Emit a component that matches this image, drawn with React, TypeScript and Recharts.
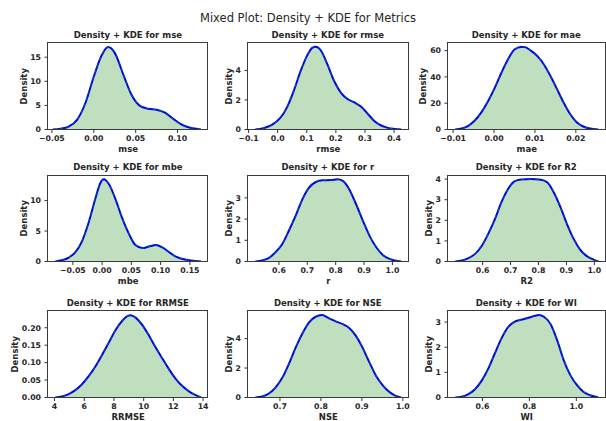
import React from "react";
import { ComposedChart, Area, Line, XAxis, YAxis, ReferenceLine } from "recharts";

// ---------- data ----------
const mseX = [-0.049, -0.04, -0.03, -0.02, -0.01, 0.0, 0.01, 0.017, 0.025, 0.035, 0.045, 0.055, 0.065, 0.075, 0.085, 0.095, 0.105, 0.115, 0.128];
const mseDensity = [0, 0.15, 0.6, 2.0, 5.5, 11, 15.6, 17.1, 15.9, 11.5, 7.2, 4.9, 4.3, 4.1, 3.5, 2.2, 1.0, 0.35, 0.02];

const rmseX = [-0.077, -0.049, -0.02, 0.009, 0.032, 0.055, 0.079, 0.102, 0.119, 0.131, 0.148, 0.171, 0.194, 0.217, 0.24, 0.264, 0.287, 0.31, 0.333, 0.356, 0.379, 0.402, 0.425];
const rmseDensity = [0, 0.09, 0.31, 0.78, 1.5, 2.6, 3.96, 5.03, 5.52, 5.59, 5.36, 4.4, 3.28, 2.5, 2.06, 1.83, 1.54, 1.05, 0.56, 0.27, 0.11, 0.04, 0];

const maeX = [-0.0095, -0.0079, -0.0063, -0.0047, -0.0031, -0.0014, 0.0002, 0.0018, 0.0034, 0.005, 0.0066, 0.0074, 0.009, 0.0106, 0.0122, 0.0138, 0.0154, 0.017, 0.0186, 0.0202, 0.0218, 0.0235, 0.0255];
const maeDensity = [0, 0.75, 2.8, 6.8, 13, 21.9, 31.9, 43.2, 53.3, 60.8, 62.8, 62.8, 60, 55.8, 49.5, 40.7, 30.7, 20.6, 11.8, 5.5, 2.3, 0.75, 0];

const mbeX = [-0.08, -0.069, -0.057, -0.046, -0.034, -0.023, -0.011, -0.003, 0.003, 0.011, 0.023, 0.034, 0.046, 0.057, 0.069, 0.08, 0.092, 0.103, 0.115, 0.126, 0.138, 0.152, 0.169];
const mbeDensity = [0, 0.2, 0.65, 1.5, 3.4, 6.4, 10.5, 12.9, 13.5, 12.8, 10.2, 7.2, 4.5, 2.7, 2.2, 2.45, 2.7, 2.3, 1.5, 0.8, 0.4, 0.15, 0];

const rX = [0.517, 0.541, 0.565, 0.588, 0.612, 0.635, 0.659, 0.683, 0.706, 0.73, 0.754, 0.783, 0.807, 0.825, 0.848, 0.872, 0.896, 0.919, 0.943, 0.966, 0.99, 1.031];
const rDensity = [0, 0.05, 0.17, 0.44, 0.83, 1.45, 2.16, 2.94, 3.48, 3.75, 3.83, 3.84, 3.875, 3.8, 3.4, 2.7, 1.92, 1.22, 0.67, 0.31, 0.12, 0];

const r2X = [0.502, 0.526, 0.549, 0.573, 0.596, 0.62, 0.644, 0.667, 0.691, 0.714, 0.738, 0.773, 0.808, 0.832, 0.855, 0.879, 0.902, 0.926, 0.949, 0.973, 0.996, 1.014];
const r2Density = [0, 0.05, 0.16, 0.37, 0.74, 1.34, 2.06, 2.87, 3.52, 3.89, 3.98, 4.0, 3.97, 3.84, 3.35, 2.63, 1.82, 1.1, 0.58, 0.26, 0.1, 0];

const rrmseX = [4.05, 4.5, 4.95, 5.4, 5.85, 6.3, 6.75, 7.2, 7.66, 8.1, 8.56, 8.9, 9.12, 9.46, 9.9, 10.36, 10.8, 11.27, 11.72, 12.17, 12.62, 13.07, 13.5, 13.86];
const rrmseDensity = [0, 0.003, 0.0095, 0.021, 0.038, 0.061, 0.089, 0.122, 0.158, 0.193, 0.22, 0.233, 0.236, 0.229, 0.208, 0.177, 0.144, 0.111, 0.08, 0.053, 0.032, 0.017, 0.0066, 0];

const nseX = [0.64, 0.657, 0.673, 0.689, 0.706, 0.722, 0.738, 0.755, 0.771, 0.787, 0.803, 0.819, 0.836, 0.852, 0.869, 0.885, 0.901, 0.918, 0.934, 0.951, 0.967, 0.979, 0.996];
const nseDensity = [0, 0.07, 0.27, 0.67, 1.35, 2.29, 3.37, 4.36, 5.1, 5.48, 5.6, 5.39, 5.17, 4.99, 4.72, 4.2, 3.42, 2.4, 1.5, 0.83, 0.38, 0.16, 0];

const wiX = [0.484, 0.512, 0.54, 0.568, 0.596, 0.624, 0.652, 0.68, 0.708, 0.736, 0.764, 0.792, 0.82, 0.841, 0.862, 0.89, 0.919, 0.947, 0.975, 1.003, 1.031, 1.059, 1.094];
const wiDensity = [0, 0.03, 0.13, 0.33, 0.66, 1.14, 1.74, 2.33, 2.79, 3.01, 3.09, 3.16, 3.24, 3.28, 3.21, 2.92, 2.26, 1.47, 0.88, 0.49, 0.22, 0.09, 0];

// tick values and labels
const mseXTicks = [-0.05, 0, 0.05, 0.1];
const mseXLabels = ["\u22120.05", "0.00", "0.05", "0.10"];
const mseYTicks = [0, 5, 10, 15];
const rmseXTicks = [-0.1, 0, 0.1, 0.2, 0.3, 0.4];
const rmseXLabels = ["\u22120.1", "0.0", "0.1", "0.2", "0.3", "0.4"];
const rmseYTicks = [0, 2, 4];
const maeXTicks = [-0.01, 0, 0.01, 0.02];
const maeXLabels = ["\u22120.01", "0.00", "0.01", "0.02"];
const maeYTicks = [0, 20, 40, 60];
const mbeXTicks = [-0.05, 0, 0.05, 0.1, 0.15];
const mbeXLabels = ["\u22120.05", "0.00", "0.05", "0.10", "0.15"];
const mbeYTicks = [0, 5, 10];
const rXTicks = [0.6, 0.7, 0.8, 0.9, 1.0];
const rXLabels = ["0.6", "0.7", "0.8", "0.9", "1.0"];
const rYTicks = [0, 1, 2, 3];
const r2XTicks = [0.6, 0.7, 0.8, 0.9, 1.0];
const r2XLabels = ["0.6", "0.7", "0.8", "0.9", "1.0"];
const r2YTicks = [0, 1, 2, 3, 4];
const rrmseXTicks = [4, 6, 8, 10, 12, 14];
const rrmseXLabels = ["4", "6", "8", "10", "12", "14"];
const rrmseYTicks = [0, 0.05, 0.1, 0.15, 0.2];
const rrmseYLabels = ["0.00", "0.05", "0.10", "0.15", "0.20"];
const nseXTicks = [0.7, 0.8, 0.9, 1.0];
const nseXLabels = ["0.7", "0.8", "0.9", "1.0"];
const nseYTicks = [0, 2, 4];
const wiXTicks = [0.6, 0.8, 1.0];
const wiXLabels = ["0.6", "0.8", "1.0"];
const wiYTicks = [0, 1, 2, 3];

const metricNames = ["mse", "rmse", "mae", "mbe", "r", "R2", "RRMSE", "NSE", "WI"];

// ---------- layout ----------
const COL_LEFT = [47.7, 247.5, 447.5];
const COL_WIDTH = [160.3, 160.6, 157.5];
const ROW_TOP = [42.7, 175, 310.7];
const BOX_H = 86.5;

const TEXT = "#262626";
const FONT = "'DejaVu Sans', sans-serif";

const toRows = (xs: number[], ds: number[]) => xs.map((x, i) => ({ x, d: ds[i] }));
const fmt = (ticks: number[], labels?: string[]) => (v: number) => {
  if (!labels) return String(v);
  const i = ticks.findIndex((t) => Math.abs(t - v) < 1e-9);
  return i >= 0 ? labels[i] : String(v);
};

type PanelCfg = {
  name: string;
  xs: number[];
  ds: number[];
  xDomain: [number, number];
  yMax: number;
  xTicks: number[];
  xLabels: string[];
  yTicks: number[];
  yLabels?: string[];
  yLabelOff: number;
};

const panels: PanelCfg[] = [
  { name: metricNames[0], xs: mseX, ds: mseDensity, xDomain: [-0.0547, 0.1367], yMax: 17.95, xTicks: mseXTicks, xLabels: mseXLabels, yTicks: mseYTicks, yLabelOff: 24.4 },
  { name: metricNames[1], xs: rmseX, ds: rmseDensity, xDomain: [-0.102, 0.45], yMax: 5.85, xTicks: rmseXTicks, xLabels: rmseXLabels, yTicks: rmseYTicks, yLabelOff: 19.4 },
  { name: metricNames[2], xs: maeX, ds: maeDensity, xDomain: [-0.01125, 0.02725], yMax: 65.8, xTicks: maeXTicks, xLabels: maeXLabels, yTicks: maeYTicks, yLabelOff: 25 },
  { name: metricNames[3], xs: mbeX, ds: mbeDensity, xDomain: [-0.0925, 0.1815], yMax: 14.2, xTicks: mbeXTicks, xLabels: mbeXLabels, yTicks: mbeYTicks, yLabelOff: 24.4 },
  { name: metricNames[4], xs: rX, ds: rDensity, xDomain: [0.491, 1.057], yMax: 4.08, xTicks: rXTicks, xLabels: rXLabels, yTicks: rYTicks, yLabelOff: 19.4 },
  { name: metricNames[5], xs: r2X, ds: r2Density, xDomain: [0.476, 1.04], yMax: 4.2, xTicks: r2XTicks, xLabels: r2XLabels, yTicks: r2YTicks, yLabelOff: 19.4 },
  { name: metricNames[6], xs: rrmseX, ds: rrmseDensity, xDomain: [3.56, 14.35], yMax: 0.248, xTicks: rrmseXTicks, xLabels: rrmseXLabels, yTicks: rrmseYTicks, yLabels: rrmseYLabels, yLabelOff: 32.5 },
  { name: metricNames[7], xs: nseX, ds: nseDensity, xDomain: [0.622, 1.014], yMax: 5.87, xTicks: nseXTicks, xLabels: nseXLabels, yTicks: nseYTicks, yLabelOff: 19.4 },
  { name: metricNames[8], xs: wiX, ds: wiDensity, xDomain: [0.453, 1.1245], yMax: 3.44, xTicks: wiXTicks, xLabels: wiXLabels, yTicks: wiYTicks, yLabelOff: 19.4 },
];

const ML = 50;
const MT = 5;
const MB = 32;
const MR = 4;

const tickStyle = { fontFamily: FONT, fontWeight: 700, fontSize: 7.8, fill: TEXT };

function Panel({ cfg, left, top, width }: { cfg: PanelCfg; left: number; top: number; width: number }) {
  const data = toRows(cfg.xs, cfg.ds);
  const W = width + ML + MR;
  const H = BOX_H + MT + MB;
  const first = cfg.xs[0];
  const last = cfg.xs[cfg.xs.length - 1];
  return (
    <>
      <div style={{ position: "absolute", left: left - ML, top: top - MT, width: W, height: H }}>
        <ComposedChart width={W} height={H} data={data} margin={{ top: MT, right: MR, left: 0, bottom: 0 }}>
          <XAxis
            type="number"
            dataKey="x"
            domain={cfg.xDomain}
            allowDataOverflow
            ticks={cfg.xTicks}
            interval={0}
            tickFormatter={fmt(cfg.xTicks, cfg.xLabels)}
            height={MB}
            tickSize={3.5}
            tickMargin={2.5}
            axisLine={false}
            tickLine={{ stroke: "#333", strokeWidth: 1 }}
            tick={tickStyle}
            label={{
              content: () => (
                <text x={ML + width / 2} y={MT + BOX_H + 19.5} textAnchor="middle" dominantBaseline="central"
                  style={{ fontFamily: FONT, fontWeight: 700, fontSize: 8.5, fill: TEXT }}>
                  {cfg.name}
                </text>
              ),
            }}
          />
          <YAxis
            type="number"
            domain={[0, cfg.yMax]}
            allowDataOverflow
            ticks={cfg.yTicks}
            interval={0}
            tickFormatter={fmt(cfg.yTicks, cfg.yLabels)}
            width={ML}
            tickSize={3.5}
            tickMargin={3.5}
            axisLine={false}
            tickLine={{ stroke: "#333", strokeWidth: 1 }}
            tick={tickStyle}
            label={{
              content: () => {
                const cx = ML - cfg.yLabelOff;
                const cy = MT + BOX_H / 2;
                return (
                  <text x={cx} y={cy} transform={`rotate(-90, ${cx}, ${cy})`} textAnchor="middle" dominantBaseline="central"
                    style={{ fontFamily: FONT, fontWeight: 700, fontSize: 8.5, fill: TEXT }}>
                    Density
                  </text>
                );
              },
            }}
          />
          <Area dataKey="d" type="monotone" fill="#008000" fillOpacity={0.25} stroke="none" isAnimationActive={false} />
          <ReferenceLine segment={[{ x: first, y: 0 }, { x: last, y: 0 }]} stroke="#2e7d2e" strokeWidth={1.2} ifOverflow="visible" />
          <Line dataKey="d" type="monotone" stroke="#0000ff" strokeWidth={2} dot={false} isAnimationActive={false} />
          <Line dataKey="d" type="monotone" stroke="#008000" strokeWidth={0.9} strokeDasharray="3 4" dot={false} isAnimationActive={false} />
        </ComposedChart>
      </div>
      <div style={{ position: "absolute", left: left - 0.5, top: top - 0.5, width: width + 1, height: BOX_H + 1, boxSizing: "border-box", border: "1px solid #3a3a3a", pointerEvents: "none" }} />
      <div style={{ position: "absolute", left: left, top: top - 13, width: width, height: 10, lineHeight: "10px", textAlign: "center", fontFamily: FONT, fontWeight: 700, fontSize: 8.5, color: TEXT, whiteSpace: "nowrap" }}>
        {`Density + KDE for ${cfg.name}`}
      </div>
    </>
  );
}

export default function App() {
  return (
    <div style={{ position: "absolute", left: 0, top: 0, width: 606, height: 421, background: "#fff", overflow: "hidden" }}>
      <div style={{ position: "absolute", left: 0, top: 10.6, width: 616, height: 14, lineHeight: "14px", textAlign: "center", fontFamily: FONT, fontSize: 11.5, color: TEXT, whiteSpace: "nowrap" }}>
        Mixed Plot: Density + KDE for Metrics
      </div>
      {panels.map((cfg, i) => {
        const r = Math.floor(i / 3);
        const c = i % 3;
        return <Panel key={cfg.name} cfg={cfg} left={COL_LEFT[c]} top={ROW_TOP[r]} width={COL_WIDTH[c]} />;
      })}
    </div>
  );
}
